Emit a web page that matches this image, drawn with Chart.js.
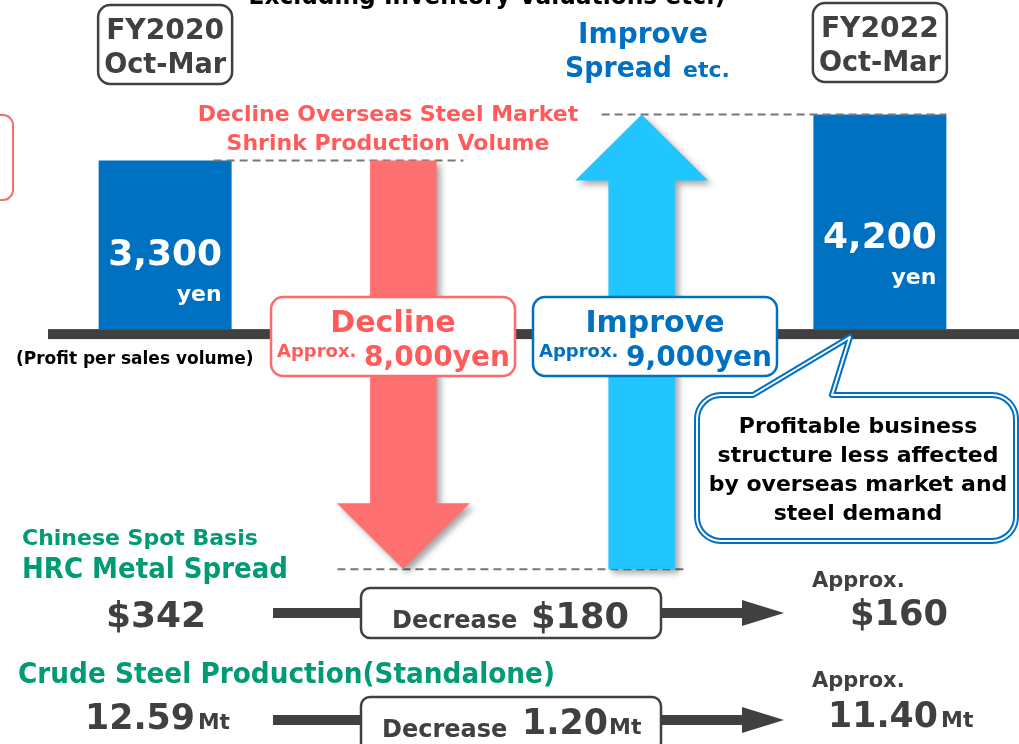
<!DOCTYPE html>
<html>
<head>
<meta charset="utf-8">
<script src="https://cdn.jsdelivr.net/npm/chart.js@4"></script>
<style>
  html, body { margin: 0; padding: 0; background: #fff; }
  #wrap { width: 1019px; height: 744px; }
</style>
</head>
<body>
<div id="wrap"><canvas id="chart" width="1019" height="744"></canvas></div>
<script>
// chart data (yen per ton, profit per sales volume)
const categories = ['FY2020 Oct-Mar', 'Decline', 'Improve', 'FY2022 Oct-Mar'];
const rangeLow = [0, -4700, -4700, 0];
const rangeHigh = [3300, 3300, 4200, 4200];
const valueLabels = ['3,300', '', '', '4,200'];
const arrowDir = [0, -1, 1, 0];
const periodLines = [['FY2020', 'Oct-Mar'], null, null, ['FY2022', 'Oct-Mar']];
const changeNames = ['', 'Decline', 'Improve', ''];
const changeAmounts = ['', '8,000yen', '9,000yen', ''];

// lower section figures
const spreadValues = ['$342', '$180', '$160'];
const steelValues = ['12.59', '1.20', '11.40'];

const BLUE = '#0070C0';
const RED_ARROW = '#FF7171';
const RED_TEXT = '#FF5B5B';
const CYAN = '#21C6FF';
const GREEN = '#009B74';
const GRAY = '#404040';
const FONT = '"DejaVu Sans", Verdana, sans-serif';

function txt(ctx, s, x, y, size, color, align, maxW) {
  ctx.font = 'bold ' + size + 'px ' + FONT;
  ctx.fillStyle = color;
  ctx.textAlign = align || 'left';
  ctx.textBaseline = 'alphabetic';
  if (maxW) ctx.fillText(s, x, y, maxW); else ctx.fillText(s, x, y);
}

function rrect(ctx, x, y, w, h, r) {
  ctx.beginPath();
  ctx.moveTo(x + r, y);
  ctx.arcTo(x + w, y, x + w, y + h, r);
  ctx.arcTo(x + w, y + h, x, y + h, r);
  ctx.arcTo(x, y + h, x, y, r);
  ctx.arcTo(x, y, x + w, y, r);
  ctx.closePath();
}

function box(ctx, x, y, w, h, r, stroke, lw) {
  rrect(ctx, x, y, w, h, r);
  ctx.fillStyle = '#fff';
  ctx.fill();
  ctx.lineWidth = lw;
  ctx.strokeStyle = stroke;
  ctx.stroke();
}

function dashed(ctx, x1, x2, y) {
  ctx.save();
  ctx.setLineDash([8, 5]);
  ctx.strokeStyle = '#777';
  ctx.lineWidth = 2;
  ctx.beginPath();
  ctx.moveTo(x1, y);
  ctx.lineTo(x2, y);
  ctx.stroke();
  ctx.restore();
}

function flowArrow(ctx, x1, x2, y) {
  ctx.fillStyle = GRAY;
  ctx.fillRect(x1, y - 5, x2 - x1 - 40, 10);
  ctx.beginPath();
  ctx.moveTo(x2 - 42, y - 13);
  ctx.lineTo(x2, y);
  ctx.lineTo(x2 - 42, y + 13);
  ctx.closePath();
  ctx.fill();
}

const infographic = {
  id: 'infographic',
  beforeDatasetsDraw(chart) {
    const ctx = chart.ctx;
    const y0 = chart.scales.y.getPixelForValue(0);
    ctx.save();
    ctx.fillStyle = GRAY;
    ctx.fillRect(48, y0, 1019 - 48, 10);
    ctx.restore();
  },
  afterDatasetsDraw(chart) {
    const ctx = chart.ctx;
    const ys = chart.scales.y;
    const bars = chart.getDatasetMeta(0).data;
    ctx.save();

    // header
    txt(ctx, 'Excluding Inventory Valuations etc.)', 487, 4, 24, '#000', 'center', 477);
    ctx.lineWidth = 2;
    ctx.strokeStyle = '#FF6B6B';
    rrect(ctx, -30, 115, 43, 85, 10);
    ctx.stroke();

    // dashed guide lines
    const topA = ys.getPixelForValue(rangeHigh[0]);
    const low = ys.getPixelForValue(rangeLow[1]);
    const topB = ys.getPixelForValue(rangeHigh[3]);
    dashed(ctx, bars[0].x + bars[0].width / 2 - 18, bars[1].x + 60, topA);
    dashed(ctx, bars[1].x - 66, bars[2].x + 45, low);
    dashed(ctx, bars[2].x - 40, bars[3].x + bars[3].width / 2, topB);

    bars.forEach((bar, i) => {
      const hi = ys.getPixelForValue(rangeHigh[i]);
      const lo = ys.getPixelForValue(rangeLow[i]);
      if (arrowDir[i] !== 0) {
        const yFrom = arrowDir[i] < 0 ? hi : lo;
        const yTo = arrowDir[i] < 0 ? lo : hi;
        const sg = arrowDir[i] < 0 ? 1 : -1;
        const sw = bar.width * 0.5, hw = bar.width, hl = 66;
        ctx.save();
        ctx.shadowColor = 'rgba(0,0,0,0.35)';
        ctx.shadowBlur = 6;
        ctx.shadowOffsetX = 4;
        ctx.shadowOffsetY = 4;
        ctx.fillStyle = i === 1 ? RED_ARROW : CYAN;
        ctx.beginPath();
        ctx.moveTo(bar.x - sw / 2, yFrom);
        ctx.lineTo(bar.x - sw / 2, yTo - sg * hl);
        ctx.lineTo(bar.x - hw / 2, yTo - sg * hl);
        ctx.lineTo(bar.x, yTo);
        ctx.lineTo(bar.x + hw / 2, yTo - sg * hl);
        ctx.lineTo(bar.x + sw / 2, yTo - sg * hl);
        ctx.lineTo(bar.x + sw / 2, yFrom);
        ctx.closePath();
        ctx.fill();
        ctx.restore();
      } else {
        const h = lo - hi;
        const ny = lo - h * 0.38;
        txt(ctx, valueLabels[i], bar.x, ny, 36, '#fff', 'center', 116);
        txt(ctx, 'yen', bar.x + bar.width / 2 - 10, ny + 36, 22, '#fff', 'right');
      }
      if (periodLines[i]) {
        const top = i === 0 ? 5 : 3;
        box(ctx, bar.x - 67, top, 134, 79, 12, GRAY, 2.5);
        txt(ctx, periodLines[i][0], bar.x, top + 34, 29, GRAY, 'center', 118);
        txt(ctx, periodLines[i][1], bar.x, top + 68, 29, GRAY, 'center', 122);
      }
    });

    // change labels above arrows
    txt(ctx, 'Decline Overseas Steel Market', 388, 121, 22, RED_TEXT, 'center', 384);
    txt(ctx, 'Shrink Production Volume', 388, 150, 22, RED_TEXT, 'center', 332);
    txt(ctx, 'Improve', 643, 43, 28, BLUE, 'center', 132);
    txt(ctx, 'Spread', 565, 77, 28, BLUE, 'left', 107);
    txt(ctx, 'etc.', 683, 77, 22, BLUE, 'left', 47);

    txt(ctx, '(Profit per sales volume)', 16, 364, 17, '#000', 'left', 245);

    // change boxes on the baseline
    [1, 2].forEach(i => {
      const col = i === 1 ? RED_TEXT : BLUE;
      const bx = i === 1 ? 271 : 533;
      box(ctx, bx, 297, 244, 79, 12, i === 1 ? '#FF6B6B' : BLUE, 2.5);
      txt(ctx, changeNames[i], bx + 122, 332, 30, col, 'center', 140);
      txt(ctx, 'Approx.', bx + 6, 357, 18, col, 'left', 80);
      txt(ctx, changeAmounts[i], bx + 93, 366, 29, col, 'left', 146);
    });

    // callout
    ctx.beginPath();
    const cx0 = 697, cy0 = 395, cx1 = 1016, cy1 = 541, r = 24;
    ctx.moveTo(cx0 + r, cy0);
    ctx.lineTo(753, cy0);
    ctx.lineTo(850, 337);
    ctx.lineTo(832, cy0);
    ctx.arcTo(cx1, cy0, cx1, cy1, r);
    ctx.arcTo(cx1, cy1, cx0, cy1, r);
    ctx.arcTo(cx0, cy1, cx0, cy0, r);
    ctx.arcTo(cx0, cy0, cx1, cy0, r);
    ctx.closePath();
    ctx.fillStyle = '#fff';
    ctx.fill();
    ctx.lineJoin = 'round';
    ctx.lineWidth = 6;
    ctx.strokeStyle = BLUE;
    ctx.stroke();
    ctx.lineWidth = 2;
    ctx.strokeStyle = '#fff';
    ctx.stroke();
    ['Profitable business', 'structure less affected', 'by overseas market and', 'steel demand']
      .forEach((s, k) => txt(ctx, s, 858, 433 + k * 29, 22, '#000', 'center', 308));

    // lower section
    txt(ctx, 'Chinese Spot Basis', 22, 545, 22, GREEN, 'left', 240);
    txt(ctx, 'HRC Metal Spread', 22, 578, 28, GREEN, 'left', 266);
    txt(ctx, spreadValues[0], 156, 627, 36, GRAY, 'center', 100);
    ctx.fillStyle = GRAY;
    ctx.fillRect(273, 608, 90, 10);
    box(ctx, 361, 588, 300, 50, 9, GRAY, 2.5);
    txt(ctx, 'Decrease', 392, 628, 24, GRAY, 'left', 128);
    txt(ctx, spreadValues[1], 531, 628, 36, GRAY, 'left', 98);
    flowArrow(ctx, 661, 784, 613);
    txt(ctx, 'Approx.', 812, 587, 21, GRAY, 'left', 98);
    txt(ctx, spreadValues[2], 850, 625, 36, GRAY, 'left', 98);

    txt(ctx, 'Crude Steel Production(Standalone)', 18, 683, 28, GREEN, 'left', 537);
    txt(ctx, steelValues[0], 85, 729, 36, GRAY, 'left', 110);
    txt(ctx, 'Mt', 198, 729, 22, GRAY, 'left', 32);
    ctx.fillStyle = GRAY;
    ctx.fillRect(273, 715, 90, 10);
    box(ctx, 361, 697, 300, 54, 9, GRAY, 2.5);
    txt(ctx, 'Decrease', 382, 737, 24, GRAY, 'left', 126);
    txt(ctx, steelValues[1], 522, 734, 36, GRAY, 'left', 86);
    txt(ctx, 'Mt', 609, 734, 22, GRAY, 'left', 33);
    flowArrow(ctx, 661, 784, 720);
    txt(ctx, 'Approx.', 812, 687, 21, GRAY, 'left', 98);
    txt(ctx, steelValues[2], 828, 727, 36, GRAY, 'left', 110);
    txt(ctx, 'Mt', 941, 727, 22, GRAY, 'left', 33);

    ctx.restore();
  }
};

const ctx = document.getElementById('chart').getContext('2d');
const chart = new Chart(ctx, {
  type: 'bar',
  data: {
    labels: categories,
    datasets: [{
      data: categories.map((c, i) => [rangeLow[i], rangeHigh[i]]),
      backgroundColor: arrowDir.map(d => d === 0 ? BLUE : 'rgba(0,0,0,0)'),
      borderWidth: 0,
      barPercentage: 0.558,
      categoryPercentage: 1
    }]
  },
  options: {
    responsive: false,
    animation: false,
    layout: { padding: { left: 46, right: 20, top: 2, bottom: 6 } },
    scales: {
      x: { display: false },
      y: { display: false, min: -8000, max: 6400 }
    },
    plugins: {
      legend: { display: false },
      tooltip: { enabled: false }
    }
  },
  plugins: [infographic]
});
</script>
</body>
</html>
